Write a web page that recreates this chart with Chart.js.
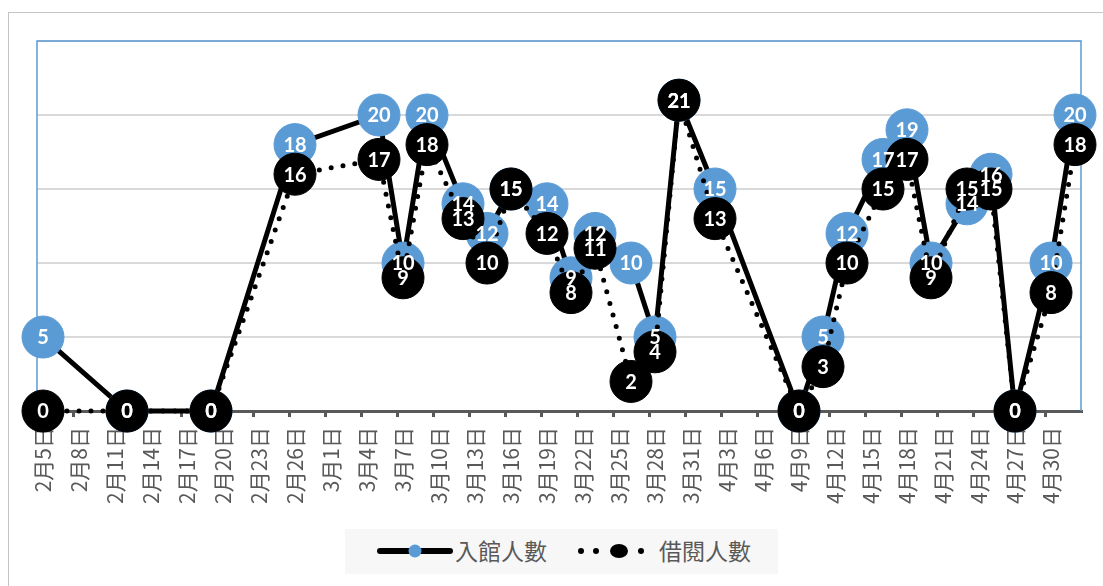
<!DOCTYPE html>
<html>
<head>
<meta charset="utf-8">
<script src="https://cdn.jsdelivr.net/npm/chart.js@4.4.0/dist/chart.umd.min.js"></script>
<style>
  html, body { margin: 0; padding: 0; background: #fff; }
  #wrap { position: relative; width: 1103px; height: 586px; overflow: hidden; }
  #frame { position: absolute; left: 8px; top: 12px; width: 1200px; height: 700px;
           border-left: 1.5px solid #c4c4c4; border-top: 1.5px solid #c4c4c4; }
  #chart { position: absolute; left: 0; top: 0; }
  #legend { position: absolute; left: 345px; top: 529px; width: 433px; height: 45px; background: #f7f7f7; }
  .sym { position: absolute; top: 11px; }
  .txt { position: absolute; top: 6px; font: 23px "Noto Sans CJK TC", sans-serif; color: #595959; line-height: 30px; }
</style>
</head>
<body>
<div id="wrap">
  <div id="frame"></div>
  <canvas id="chart" width="1103" height="586"></canvas>
  <div id="legend">
    <svg class="sym" style="left:29px" width="82" height="22">
      <line x1="6" y1="11" x2="76" y2="11" stroke="#000" stroke-width="6" stroke-linecap="round"/>
      <circle cx="41" cy="11" r="6.5" fill="#5b9bd5"/>
    </svg>
    <span class="txt" style="left:110px">入館人數</span>
    <svg class="sym" style="left:230px" width="72" height="22">
      <circle cx="6" cy="11" r="3" fill="#000"/>
      <circle cx="21" cy="11" r="3" fill="#000"/>
      <ellipse cx="44" cy="11" rx="9" ry="7" fill="#000"/>
      <circle cx="66" cy="11" r="3" fill="#000"/>
    </svg>
    <span class="txt" style="left:314px">借閱人數</span>
  </div>
</div>
<script>
// year is not printed on the chart; a non-leap year matches the tick spacing (2/26 -> 3/1)
const year = 2021;
const firstDay = '2/5';
const lastDay = '5/2';
const tickEvery = 3; // one label every 3 days

// dates that have a value
const dataDates = ['2/5','2/12','2/19','2/26','3/5','3/7','3/9','3/12','3/14','3/16',
                   '3/19','3/21','3/23','3/26','3/28','3/30','4/2','4/9','4/11','4/13',
                   '4/16','4/18','4/20','4/23','4/25','4/27','4/30','5/2'];
// 入館人數
const visits = [5,0,0,18,20,10,20,14,12,15, 14,9,12,10,5,21,15,0,5,12, 17,19,10,14,16,0,10,20];
// 借閱人數
const loans  = [0,0,0,16,17,9,18,13,10,15, 12,8,11,2,4,21,13,0,3,10, 15,17,9,15,15,0,8,18];

const seriesNames = ['入館人數', '借閱人數'];

function parseMD(s) {
  const [m, d] = s.split('/').map(Number);
  return new Date(year, m - 1, d);
}
function dayLabel(d) {
  return (d.getMonth() + 1) + '月' + d.getDate() + '日';
}

// one category per calendar day (date axis)
const days = [];
for (let d = parseMD(firstDay); d <= parseMD(lastDay); d.setDate(d.getDate() + 1)) {
  days.push(dayLabel(d));
}

function toPoints(values) {
  return dataDates.map((s, i) => ({ x: dayLabel(parseMD(s)), y: values[i] }));
}

const BLUE = '#5b9bd5';

// blue frame round the plot area
const plotFrame = {
  id: 'plotFrame',
  beforeDatasetsDraw(chart) {
    const { ctx, chartArea: a } = chart;
    ctx.save();
    ctx.strokeStyle = BLUE;
    ctx.lineWidth = 1.5;
    ctx.beginPath();
    ctx.moveTo(a.left, a.bottom);
    ctx.lineTo(a.left, a.top);
    ctx.lineTo(a.right, a.top);
    ctx.lineTo(a.right, a.bottom);
    ctx.stroke();
    ctx.restore();
  }
};

// value labels centred in the markers
const valueLabels = {
  id: 'valueLabels',
  afterDatasetsDraw(chart) {
    const { ctx } = chart;
    ctx.save();
    ctx.font = 'bold 20px Lato, "Open Sans", sans-serif';
    ctx.fillStyle = '#fff';
    ctx.textAlign = 'center';
    ctx.textBaseline = 'middle';
    chart.data.datasets.forEach((ds, di) => {
      chart.getDatasetMeta(di).data.forEach((pt, i) => {
        ctx.fillText(String(ds.data[i].y), pt.x, pt.y + 1);
      });
    });
    ctx.restore();
  }
};

new Chart(document.getElementById('chart'), {
  type: 'line',
  data: {
    labels: days,
    datasets: [
      {
        label: seriesNames[0],
        data: toPoints(visits),
        borderColor: '#000',
        borderWidth: 5,
        pointRadius: 21,
        pointHoverRadius: 21,
        pointBackgroundColor: BLUE,
        pointBorderColor: BLUE,
        pointBorderWidth: 1,
        tension: 0,
        clip: false,
        order: 2
      },
      {
        label: seriesNames[1],
        data: toPoints(loans),
        borderColor: '#000',
        borderWidth: 5,
        borderDash: [0, 12],
        borderCapStyle: 'round',
        pointRadius: 21,
        pointHoverRadius: 21,
        pointBackgroundColor: '#000',
        pointBorderColor: '#000',
        pointBorderWidth: 1,
        tension: 0,
        clip: false,
        order: 1
      }
    ]
  },
  options: {
    responsive: false,
    animation: false,
    layout: { padding: { left: 37, right: 18, top: 41, bottom: 72 } },
    plugins: {
      legend: { display: false },
      tooltip: { enabled: false }
    },
    scales: {
      x: {
        type: 'category',
        offset: true,
        afterFit: (scale) => { scale.paddingLeft = 0; scale.paddingRight = 0; },
        border: { display: true, color: '#595959', width: 3 },
        grid: {
          offset: true,
          drawOnChartArea: false,
          drawTicks: true,
          tickLength: 6,
          lineWidth: 3,
          color: (c) => (c.index % tickEvery === 0 ? '#595959' : 'rgba(0,0,0,0)')
        },
        ticks: {
          autoSkip: false,
          minRotation: 90,
          maxRotation: 90,
          padding: 10,
          color: '#595959',
          font: { family: '"Noto Sans CJK TC", sans-serif', size: 21 },
          callback: (v, i) => (i % tickEvery === 0 ? days[i] : '')
        }
      },
      y: {
        min: 0,
        max: 25,
        border: { display: false },
        grid: { color: '#d9d9d9', lineWidth: 2, drawTicks: false },
        ticks: { display: false, stepSize: 5 }
      }
    }
  },
  plugins: [plotFrame, valueLabels]
});
</script>
</body>
</html>
